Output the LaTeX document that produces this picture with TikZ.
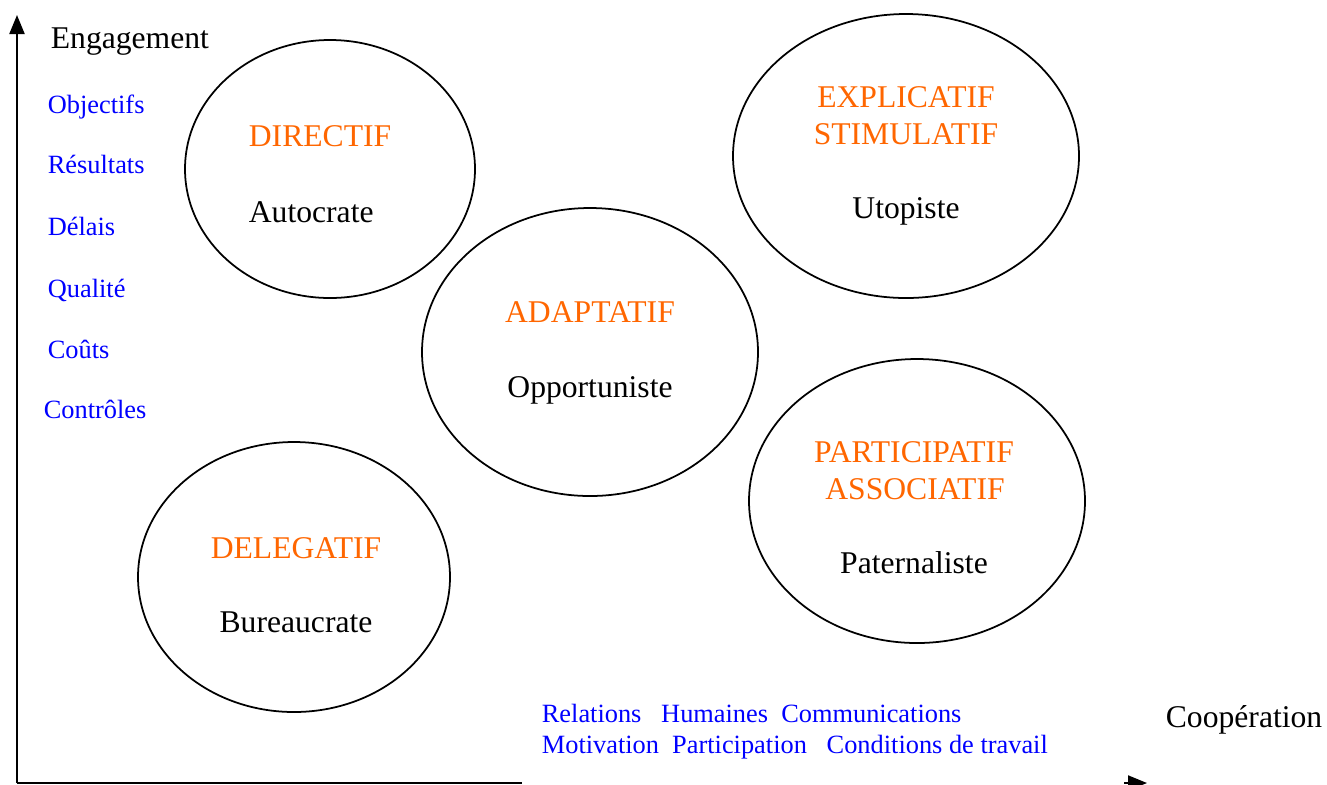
\documentclass[tikz,border=0pt]{standalone}
\usepackage{fontspec}
\setmainfont{Liberation Serif}
\usetikzlibrary{arrows.meta}
\definecolor{modeorange}{RGB}{255,102,0}
\definecolor{critblue}{RGB}{0,0,255}

\begin{document}
\begin{tikzpicture}[x=0.2mm, y=-0.2mm, line width=1pt,
	axis/.style = {line width=1.2pt, -{Triangle[length=0.38cm,width=0.3cm]}},
	big/.style = {font=\fontsize{18}{21}\selectfont, inner sep=0pt},
	mode/.style = {big, text=modeorange, anchor=base},
	chief/.style = {big, anchor=base},
	crit/.style = {font=\fontsize{15}{18}\selectfont, text=critblue, inner sep=0pt, anchor=base west}]
	\useasboundingbox (0,0) rectangle (1327,784);
	
	%draws the two axes
	\coordinate (origin) at (17,783);
	\coordinate (ytip) at (17,15);
	\coordinate (xtip) at (1147,783);
	\draw[axis] (origin) -- (ytip);
	\draw[axis] (origin) -- (xtip);
	\node[chief, anchor=base west] (engagement) at (50,48) {Engagement};
	\node[chief, anchor=base west] (cooperation) at (1165,727) {Coopération};
	
	%criteria along the engagement axis
	\node[crit] (objectifs) at (47,113) {Objectifs};
	\node[crit] (resultats) at (47,173) {Résultats};
	\node[crit] (delais) at (47,235) {Délais};
	\node[crit] (qualite) at (47,297) {Qualité};
	\node[crit] (couts) at (47,358) {Coûts};
	\node[crit] (controles) at (43,418) {Contrôles};
	
	%text box for the cooperation criteria, it hides the axis behind it
	\fill[white] (522,694) rectangle (1124,790);
	\node[crit] (relations) at (541,722) {Relations~~~Humaines~~Communications};
	\node[crit] (motivation) at (541,753) {Motivation~~Participation~~~Conditions de travail};
	
	%directif
	\draw (330,169) ellipse [x radius=145, y radius=129];
	\node[mode, anchor=base west] (directif) at (248,146) {DIRECTIF};
	\node[chief, anchor=base west] (autocrate) at (248,222) {Autocrate};
	
	%explicatif
	\draw (906,156) ellipse [x radius=173, y radius=142];
	\node[mode] (explicatif) at (906,107) {EXPLICATIF};
	\node[mode] (stimulatif) at (906,144) {STIMULATIF};
	\node[chief] (utopiste) at (906,218) {Utopiste};
	
	%adaptatif
	\draw (590,352) ellipse [x radius=168, y radius=144];
	\node[mode] (adaptatif) at (590,322) {ADAPTATIF};
	\node[chief] (opportuniste) at (590,397) {Opportuniste};
	
	%participatif
	\draw (917,501) ellipse [x radius=168, y radius=142];
	\node[mode] (participatif) at (914,462) {PARTICIPATIF};
	\node[mode] (associatif) at (915,499) {ASSOCIATIF};
	\node[chief] (paternaliste) at (914,573) {Paternaliste};
	
	%delegatif
	\draw (294,577) ellipse [x radius=156, y radius=135];
	\node[mode] (delegatif) at (296,558) {DELEGATIF};
	\node[chief] (bureaucrate) at (296,632) {Bureaucrate};
	
\end{tikzpicture}
\end{document}
